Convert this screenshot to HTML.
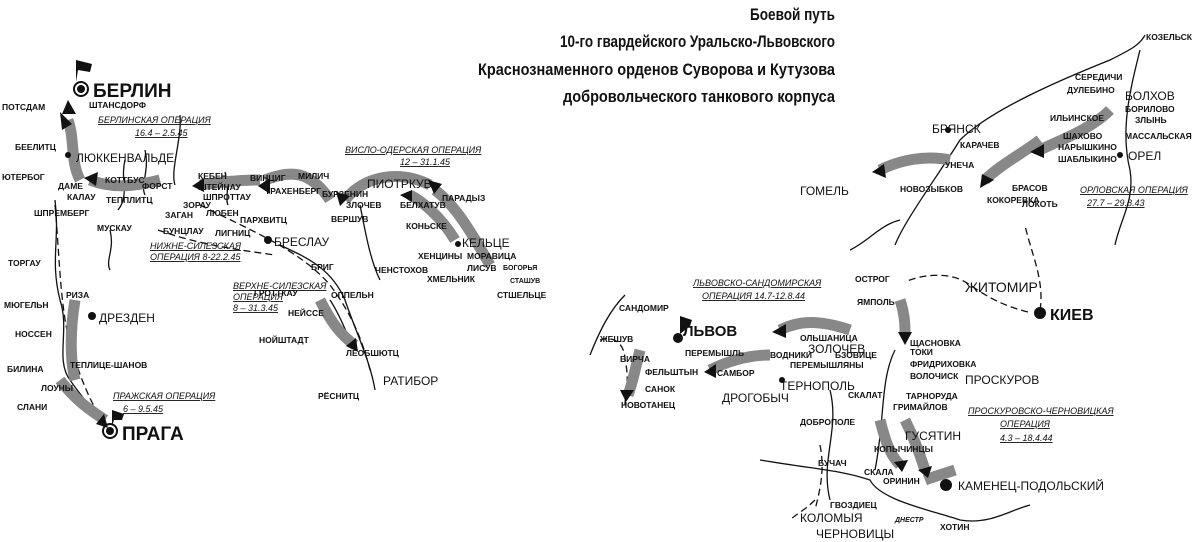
<!DOCTYPE html>
<html><head><meta charset="utf-8"><style>
html,body{margin:0;padding:0;background:#fff}
svg{display:block}
text{font-family:"Liberation Sans",sans-serif;fill:#111;font-weight:bold}
.s{font-size:8.5px}
.m{font-size:12px;font-weight:normal}
.b{font-size:19px;font-weight:bold}
.op{font-size:9px;font-style:italic;font-weight:normal;text-decoration:underline}
.t{font-size:17px;font-family:"Liberation Sans Narrow","Liberation Sans",sans-serif}
.r{fill:none;stroke:#111;stroke-width:1.3}
.d{fill:none;stroke:#111;stroke-width:1.3;stroke-dasharray:7 4}
.a{fill:none;stroke:#888;stroke-width:11;stroke-linecap:butt}
.h{fill:#111}
</style></head><body>
<svg width="1200" height="542" viewBox="0 0 1200 542">
<rect width="1200" height="542" fill="#fff"/>
<!-- title -->
<text class="t" x="750" y="20" textLength="85" lengthAdjust="spacingAndGlyphs">Боевой путь</text>
<text class="t" x="560" y="47" textLength="275" lengthAdjust="spacingAndGlyphs">10-го гвардейского Уральско-Львовского</text>
<text class="t" x="478" y="75" textLength="357" lengthAdjust="spacingAndGlyphs">Краснознаменного орденов Суворова и Кутузова</text>
<text class="t" x="563" y="102" textLength="272" lengthAdjust="spacingAndGlyphs">добровольческого танкового корпуса</text>

<!-- rivers left -->
<path class="r" d="M55,200 C60,240 50,260 60,300 C70,330 55,360 70,380 C80,395 90,405 100,420"/>
<path class="r" d="M125,160 C120,180 130,195 118,210 M145,150 C150,170 140,185 145,195 M180,115 C182,140 170,170 175,185 M110,230 C115,250 105,260 110,270 M225,172 C230,190 225,200 228,205 M280,245 C300,255 330,265 345,300 C355,330 370,360 375,390 M330,300 C340,315 345,330 350,340 M360,205 C365,230 370,260 380,280"/>
<!-- rivers right -->
<path class="r" d="M895,245 C905,220 935,180 960,140 C990,110 1060,80 1110,60 C1130,50 1140,45 1145,35"/>
<path class="r" d="M1140,50 C1130,90 1120,130 1130,170 C1135,200 1120,220 1115,245"/>
<path class="r" d="M590,355 C600,330 610,310 625,295"/>
<path class="r" d="M760,460 C820,470 840,470 870,480 C880,500 930,510 960,520 C990,525 1010,510 1030,505"/>
<path class="r" d="M830,390 C840,430 820,460 830,500 M895,350 C880,380 885,420 875,470"/>
<path class="r" d="M850,250 C870,240 880,225 900,220"/>
<!-- dashed routes -->
<path class="d" d="M1028,312 C1000,305 985,295 970,285 C950,270 920,275 905,282 M1040,310 C1045,280 1030,250 1025,225"/>
<path class="d" d="M55,205 C60,260 60,320 75,360 C85,390 95,410 105,425"/>
<path class="d" d="M158,230 C200,245 240,250 275,255 M200,205 C250,230 300,250 330,285 C345,305 360,330 370,370"/>
<path class="d" d="M600,340 C615,335 625,345 625,360 C630,380 625,395 625,405"/>
<path class="d" d="M820,445 C825,470 820,490 815,510 M815,500 C805,510 795,515 790,520"/>
<!-- grey arrows -->
<path class="a" d="M80,180 C70,160 75,140 68,120"/>
<path class="a" d="M160,180 C140,185 115,190 90,180"/>
<path class="a" d="M260,180 C235,180 215,183 200,185"/>
<path class="a" d="M330,200 C310,170 290,170 265,180"/>
<path class="a" d="M430,185 C400,170 365,175 345,200"/>
<path class="a" d="M490,265 C470,230 455,205 435,190"/>
<path class="a" d="M455,240 C440,215 420,200 410,195"/>
<path class="a" d="M320,300 C330,320 340,335 355,345"/>
<path class="a" d="M75,300 C70,330 70,360 75,380"/>
<path class="a" d="M60,380 C75,400 90,410 105,420"/>
<path class="a" d="M950,160 C925,155 900,160 880,170"/>
<path class="a" d="M1110,110 C1090,130 1060,140 1040,150"/>
<path class="a" d="M1040,140 C1020,155 1000,165 985,180"/>
<path class="a" d="M850,330 C820,320 800,320 780,330"/>
<path class="a" d="M770,355 C750,355 730,360 710,370"/>
<path class="a" d="M640,350 C635,370 632,385 628,395"/>
<path class="a" d="M900,300 C905,315 905,325 905,335"/>
<path class="a" d="M880,420 C885,440 890,455 900,465"/>
<path class="a" d="M905,420 C915,440 920,455 925,470"/>
<path class="a" d="M955,470 C940,475 930,478 925,480"/>
<!-- arrow heads -->
<g class="h">
<polygon points="60,112 72,124 62,130"/><polygon points="68,100 62,114 76,114"/>
<polygon points="84,178 98,172 96,186"/><polygon points="192,186 204,178 204,192"/>
<polygon points="258,186 270,178 270,194"/><polygon points="340,206 336,192 350,196"/>
<polygon points="428,180 442,184 434,194"/><polygon points="400,195 412,190 412,202"/>
<polygon points="358,352 346,346 356,338"/><polygon points="108,428 96,424 104,414"/>
<polygon points="872,172 884,164 886,178"/><polygon points="980,188 982,174 994,180"/>
<polygon points="1030,152 1044,144 1044,158"/><polygon points="772,332 786,324 786,338"/>
<polygon points="704,372 716,364 716,378"/><polygon points="626,402 620,390 634,390"/>
<polygon points="905,345 898,332 912,332"/><polygon points="902,472 894,462 908,460"/>
<polygon points="928,478 918,470 932,466"/>
</g>
<!-- dots -->
<g class="h">
<circle cx="81" cy="89" r="7" fill="none" stroke="#111" stroke-width="2"/><circle cx="81" cy="89" r="4"/>
<circle cx="110" cy="431" r="7" fill="none" stroke="#111" stroke-width="2"/><circle cx="110" cy="431" r="4"/>
<circle cx="1040" cy="313" r="6"/><circle cx="946" cy="485" r="6"/><circle cx="678" cy="338" r="5"/>
<circle cx="92" cy="316" r="4"/><circle cx="268" cy="240" r="4"/><circle cx="458" cy="244" r="3"/>
<circle cx="68" cy="155" r="3"/><circle cx="782" cy="380" r="3"/><circle cx="1120" cy="155" r="3"/><circle cx="948" cy="130" r="3"/>
</g>
<polygon points="76,82 76,60 92,64 90,72 78,70" fill="#111"/>
<polygon points="112,426 112,410 124,414 122,420 114,420" fill="#111"/>
<polygon points="680,334 680,316 692,320 690,326" fill="#111"/>

<!-- left labels -->
<text class="b" x="93" y="97">БЕРЛИН</text>
<text class="s" x="2" y="110">ПОТСДАМ</text>
<text class="s" x="89" y="108">ШТАНСДОРФ</text>
<text class="op" x="98" y="123">БЕРЛИНСКАЯ ОПЕРАЦИЯ</text>
<text class="op" x="135" y="136">16.4 – 2.5.45</text>
<text class="s" x="15" y="150">БЕЕЛИТЦ</text>
<text class="m" x="76" y="162">ЛЮККЕНВАЛЬДЕ</text>
<text class="s" x="2" y="180">ЮТЕРБОГ</text>
<text class="s" x="58" y="189">ДАМЕ</text>
<text class="s" x="67" y="200">КАЛАУ</text>
<text class="s" x="105" y="183">КОТТБУС</text>
<text class="s" x="142" y="189">ФОРСТ</text>
<text class="s" x="106" y="203">ТЕППЛИТЦ</text>
<text class="s" x="34" y="216">ШПРЕМБЕРГ</text>
<text class="s" x="97" y="231">МУСКАУ</text>
<text class="s" x="198" y="179">КЕБЕН</text>
<text class="s" x="198" y="190">ШТЕЙНАУ</text>
<text class="s" x="203" y="200">ШПРОТТАУ</text>
<text class="s" x="183" y="208">ЗОРАУ</text>
<text class="s" x="165" y="218">ЗАГАН</text>
<text class="s" x="206" y="216">ЛЮБЕН</text>
<text class="s" x="240" y="223">ПАРХВИТЦ</text>
<text class="s" x="163" y="234">БУНЦЛАУ</text>
<text class="s" x="215" y="236">ЛИГНИЦ</text>
<text class="op" x="150" y="249">НИЖНЕ-СИЛЕЗСКАЯ</text>
<text class="op" x="150" y="260">ОПЕРАЦИЯ 8-22.2.45</text>
<text class="m" x="274" y="246">БРЕСЛАУ</text>
<text class="s" x="311" y="270">БРИГ</text>
<text class="s" x="250" y="181">ВИНЦИГ</text>
<text class="s" x="298" y="179">МИЛИЧ</text>
<text class="s" x="265" y="194">ТРАХЕНБЕРГ</text>
<text class="s" x="322" y="197">БУРЗЕНИН</text>
<text class="s" x="346" y="208">ЗЛОЧЕВ</text>
<text class="s" x="331" y="222">ВЕРШУВ</text>
<text class="m" x="367" y="188">ПИОТРКУВ</text>
<text class="s" x="400" y="208">БЕЛХАТУВ</text>
<text class="s" x="442" y="201">ПАРАДЫЗ</text>
<text class="s" x="406" y="229">КОНЬСКЕ</text>
<text class="m" x="462" y="247">КЕЛЬЦЕ</text>
<text class="s" x="418" y="259">ХЕНЦИНЫ</text>
<text class="s" x="467" y="259">МОРАВИЦА</text>
<text class="s" x="375" y="273">ЧЕНСТОХОВ</text>
<text class="s" x="467" y="271">ЛИСУВ</text>
<text class="s" x="503" y="270" style="font-size:7px">БОГОРЬЯ</text>
<text class="s" x="427" y="282">ХМЕЛЬНИК</text>
<text class="s" x="510" y="283" style="font-size:7px">СТАШУВ</text>
<text class="s" x="497" y="298">СТШЕЛЬЦЕ</text>
<text class="op" x="345" y="153">ВИСЛО-ОДЕРСКАЯ ОПЕРАЦИЯ</text>
<text class="op" x="400" y="165">12 – 31.1.45</text>
<text class="s" x="254" y="296">ГРОТТКАУ</text>
<text class="s" x="331" y="298">ОППЕЛЬН</text>
<text class="op" x="233" y="289">ВЕРХНЕ-СИЛЕЗСКАЯ</text>
<text class="op" x="233" y="300">ОПЕРАЦИЯ</text>
<text class="op" x="233" y="311">8 – 31.3.45</text>
<text class="s" x="288" y="316">НЕЙССЕ</text>
<text class="s" x="259" y="343">НОЙШТАДТ</text>
<text class="s" x="346" y="356">ЛЕОБШЮТЦ</text>
<text class="m" x="383" y="385">РАТИБОР</text>
<text class="s" x="318" y="399">РЁСНИТЦ</text>
<text class="s" x="8" y="266">ТОРГАУ</text>
<text class="s" x="66" y="298">РИЗА</text>
<text class="s" x="4" y="308">МЮГЕЛЬН</text>
<text class="m" x="99" y="322">ДРЕЗДЕН</text>
<text class="s" x="15" y="337">НОССЕН</text>
<text class="s" x="70" y="368">ТЕПЛИЦЕ-ШАНОВ</text>
<text class="s" x="7" y="372">БИЛИНА</text>
<text class="s" x="41" y="391">ЛОУНЫ</text>
<text class="s" x="17" y="410">СЛАНИ</text>
<text class="op" x="113" y="399">ПРАЖСКАЯ ОПЕРАЦИЯ</text>
<text class="op" x="123" y="412">6 – 9.5.45</text>
<text class="b" x="122" y="440">ПРАГА</text>

<!-- right labels -->
<text class="s" x="1146" y="40">КОЗЕЛЬСК</text>
<text class="s" x="1075" y="80">СЕРЕДИЧИ</text>
<text class="s" x="1067" y="93">ДУЛЕБИНО</text>
<text class="m" x="1125" y="100">БОЛХОВ</text>
<text class="s" x="1125" y="112">БОРИЛОВО</text>
<text class="s" x="1135" y="123">ЗЛЫНЬ</text>
<text class="s" x="1050" y="121">ИЛЬИНСКОЕ</text>
<text class="s" x="1125" y="139">МАССАЛЬСКАЯ</text>
<text class="s" x="1063" y="139">ШАХОВО</text>
<text class="s" x="1058" y="150">НАРЫШКИНО</text>
<text class="m" x="1128" y="160">ОРЕЛ</text>
<text class="m" x="932" y="133">БРЯНСК</text>
<text class="s" x="960" y="148">КАРАЧЕВ</text>
<text class="s" x="945" y="168">УНЕЧА</text>
<text class="s" x="1058" y="162">ШАБЛЫКИНО</text>
<text class="m" x="800" y="195">ГОМЕЛЬ</text>
<text class="s" x="900" y="192">НОВОЗЫБКОВ</text>
<text class="s" x="1012" y="191">БРАСОВ</text>
<text class="s" x="987" y="203">КОКОРЕВКА</text>
<text class="s" x="1022" y="207">ЛОКОТЬ</text>
<text class="op" x="1080" y="193">ОРЛОВСКАЯ ОПЕРАЦИЯ</text>
<text class="op" x="1087" y="206">27.7 – 29.8.43</text>
<text class="m" x="965" y="292" style="font-size:14px">ЖИТОМИР</text>
<text class="m" x="1050" y="320" style="font-size:16px;font-weight:bold">КИЕВ</text>
<text class="s" x="855" y="282">ОСТРОГ</text>
<text class="s" x="857" y="305">ЯМПОЛЬ</text>
<text class="op" x="693" y="286">ЛЬВОВСКО-САНДОМИРСКАЯ</text>
<text class="op" x="702" y="299">ОПЕРАЦИЯ 14.7-12.8.44</text>
<text class="s" x="619" y="311">САНДОМИР</text>
<text class="s" x="600" y="342">ЖЕШУВ</text>
<text class="m" x="683" y="336" style="font-size:15px;font-weight:bold">ЛЬВОВ</text>
<text class="s" x="800" y="341">ОЛЬШАНИЦА</text>
<text class="m" x="808" y="353">ЗОЛОЧЕВ</text>
<text class="s" x="685" y="356">ПЕРЕМЫШЛЬ</text>
<text class="s" x="770" y="358">ВОДНИКИ</text>
<text class="s" x="835" y="358">БЗОВИЦЕ</text>
<text class="s" x="620" y="362">БИРЧА</text>
<text class="s" x="645" y="375">ФЕЛЬШТЫН</text>
<text class="s" x="790" y="368">ПЕРЕМЫШЛЯНЫ</text>
<text class="s" x="717" y="376">САМБОР</text>
<text class="s" x="645" y="392">САНОК</text>
<text class="m" x="780" y="390">ТЕРНОПОЛЬ</text>
<text class="m" x="722" y="402">ДРОГОБЫЧ</text>
<text class="s" x="621" y="408">НОВОТАНЕЦ</text>
<text class="m" x="965" y="384">ПРОСКУРОВ</text>
<text class="s" x="910" y="346">ЩАСНОВКА</text>
<text class="s" x="910" y="355">ТОКИ</text>
<text class="s" x="910" y="367">ФРИДРИХОВКА</text>
<text class="s" x="910" y="379">ВОЛОЧИСК</text>
<text class="s" x="906" y="399">ТАРНОРУДА</text>
<text class="s" x="893" y="410">ГРИМАЙЛОВ</text>
<text class="s" x="848" y="398">СКАЛАТ</text>
<text class="op" x="968" y="414">ПРОСКУРОВСКО-ЧЕРНОВИЦКАЯ</text>
<text class="op" x="1000" y="427">ОПЕРАЦИЯ</text>
<text class="op" x="1000" y="441">4.3 – 18.4.44</text>
<text class="s" x="800" y="425">ДОБРОПОЛЕ</text>
<text class="m" x="905" y="440">ГУСЯТИН</text>
<text class="s" x="874" y="452">КОПЫЧИНЦЫ</text>
<text class="s" x="818" y="466">БУЧАЧ</text>
<text class="s" x="864" y="475">СКАЛА</text>
<text class="s" x="883" y="484">ОРИНИН</text>
<text class="m" x="958" y="490">КАМЕНЕЦ-ПОДОЛЬСКИЙ</text>
<text class="s" x="830" y="508">ГВОЗДИЕЦ</text>
<text class="m" x="800" y="522">КОЛОМЫЯ</text>
<text class="m" x="816" y="538">ЧЕРНОВИЦЫ</text>
<text class="s" x="940" y="530">ХОТИН</text>
<text class="s" x="895" y="522" style="font-size:7px;font-style:italic">ДНЕСТР</text>
</svg>
</body></html>
